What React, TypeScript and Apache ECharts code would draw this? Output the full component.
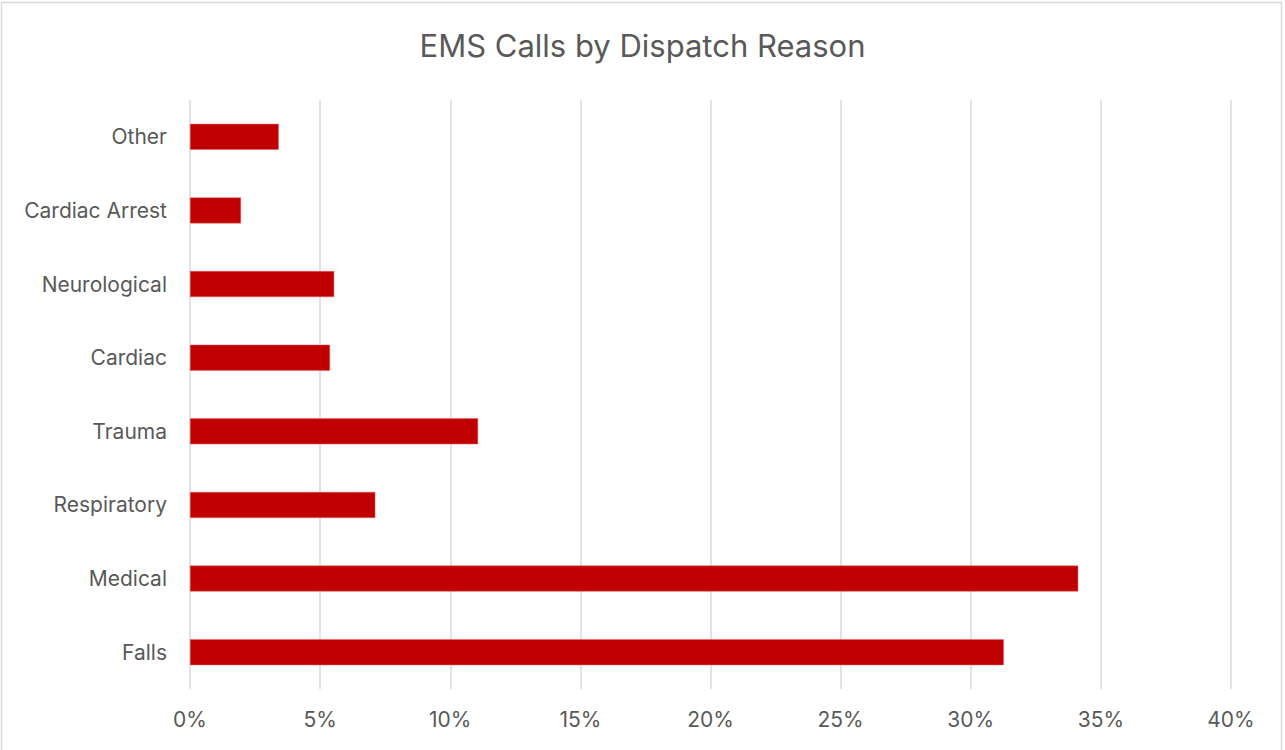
import React, { useEffect, useRef } from "react";
import * as echarts from "echarts";

const categories = ["Falls", "Medical", "Respiratory", "Trauma", "Cardiac", "Neurological", "Cardiac Arrest", "Other"];
const shares = [31.27, 34.13, 7.12, 11.07, 5.38, 5.54, 1.96, 3.41];
const xTicks = [0, 5, 10, 15, 20, 25, 30, 35, 40];
const title = "EMS Calls by Dispatch Reason";

const FONT = "Inter, 'Open Sans', sans-serif";

export default function App() {
  const ref = useRef<HTMLDivElement>(null);
  useEffect(() => {
    document.body.style.margin = "0";
    const chart = echarts.init(ref.current!, null, { renderer: "svg" });
    chart.setOption({
      animation: false,
      backgroundColor: "#ffffff",
      title: {
        text: title,
        left: "center",
        top: 25,
        textStyle: { fontFamily: FONT, fontSize: 31, fontWeight: "normal", color: "#595959" },
      },
      graphic: [
        {
          type: "rect",
          shape: { x: 1.5, y: 2.5, width: 1280, height: 760 },
          style: { fill: "none", stroke: "#d9d9d9", lineWidth: 1.5 },
          silent: true,
          z: -1,
        },
      ],
      grid: { left: 190, right: 54, top: 100, bottom: 61, containLabel: false },
      xAxis: {
        type: "value",
        min: xTicks[0],
        max: xTicks[xTicks.length - 1],
        interval: 5,
        axisLine: { show: false },
        axisTick: { show: false },
        splitLine: { show: true, lineStyle: { color: "#d9d9d9", width: 1.5 } },
        axisLabel: {
          formatter: (v: number) => `${v}%`,
          fontFamily: FONT,
          fontSize: 21,
          color: "#595959",
          margin: 20,
        },
      },
      yAxis: {
        type: "category",
        data: categories,
        axisLine: { show: false },
        axisTick: { show: false },
        splitLine: { show: false },
        axisLabel: { fontFamily: FONT, fontSize: 21, color: "#595959", margin: 23 },
      },
      series: [
        {
          type: "bar",
          data: shares,
          barWidth: 26,
          itemStyle: { color: "#c00000", borderColor: "#e06666", borderWidth: 0.5 },
        },
      ],
    });
    return () => chart.dispose();
  }, []);
  return <div ref={ref} style={{ width: 1285, height: 750 }} />;
}
